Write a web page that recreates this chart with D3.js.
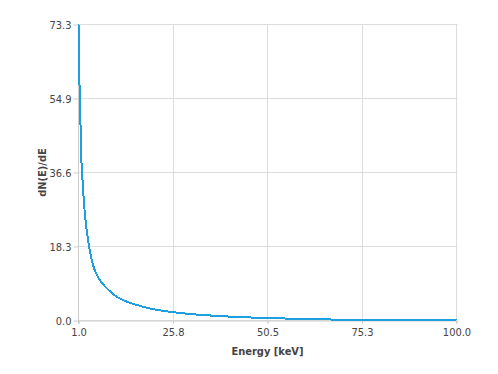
<!DOCTYPE html>
<html>
<head>
<meta charset="utf-8">
<script src="https://cdn.jsdelivr.net/npm/d3@7"></script>
<style>
  body { margin: 0; background: #fff; }
  svg { display: block; }
  .tick text { font-family: "DejaVu Sans Condensed", "DejaVu Sans", sans-serif; font-size: 11px; fill: #444; }
  .title { font-family: "DejaVu Sans Condensed", "DejaVu Sans", sans-serif; font-size: 11px; font-weight: bold; fill: #444; }
</style>
</head>
<body>
<div id="chart"></div>
<script>
const WIDTH = 498;
const HEIGHT = 374;
const PLOT = { LEFT: 78.5, RIGHT: 456.5, TOP: 24.5, BOTTOM: 320.5 };

// spectrum
const energy = [1.0, 1.26, 1.52, 1.79, 2.05, 2.67, 3.8, 4.85, 6.34, 8.8, 11.0, 13.0, 15.4, 19.8, 25.5,
    28.6, 31.6, 35.5, 40.2, 46.2, 50.5, 54.7, 60.0, 66.8, 75.3, 85.0, 100.0];
const dNdE = [73.3, 58.5, 48.5, 39.0, 34.7, 26.4, 18.1, 13.6, 10.4, 7.6, 5.9, 4.9, 4.1, 2.95, 2.1,
    1.75, 1.5, 1.24, 0.99, 0.74, 0.62, 0.5, 0.38, 0.25, 0.15, 0.08, 0.0];

const xTicks = [1.0, 25.75, 50.5, 75.25, 100.0];
const xTickLabels = ['1.0', '25.8', '50.5', '75.3', '100.0'];
const yTicks = [0, 18.325, 36.65, 54.975, 73.3];
const yTickLabels = ['0.0', '18.3', '36.6', '54.9', '73.3'];

let svg = d3
    .select('#chart')
    .append('svg')
    .attr('width', WIDTH)
    .attr('height', HEIGHT);

let xScale = d3.scaleLinear().domain([1, 100]).range([PLOT.LEFT, PLOT.RIGHT]);
let yScale = d3.scaleLinear().domain([0, 73.3]).range([PLOT.BOTTOM, PLOT.TOP]);

// grid
svg.append('g')
    .selectAll('line.hgrid')
    .data(yTicks)
    .enter()
    .append('line')
    .attr('x1', PLOT.LEFT)
    .attr('x2', PLOT.RIGHT + 1)
    .attr('y1', d => Math.round(yScale(d) - 0.5) + 0.5)
    .attr('y2', d => Math.round(yScale(d) - 0.5) + 0.5)
    .attr('stroke', '#dddddd');

svg.append('g')
    .selectAll('line.vgrid')
    .data(xTicks)
    .enter()
    .append('line')
    .attr('x1', d => Math.round(xScale(d) - 0.5) + 0.5)
    .attr('x2', d => Math.round(xScale(d) - 0.5) + 0.5)
    .attr('y1', PLOT.TOP)
    .attr('y2', PLOT.BOTTOM + 3)
    .attr('stroke', '#dddddd');

// axes
let xAxis = d3.axisBottom(xScale)
    .tickValues(xTicks)
    .tickFormat((d, i) => xTickLabels[i])
    .tickSize(3)
    .tickPadding(5);

let gx = svg.append('g')
    .attr('transform', `translate(0, ${PLOT.BOTTOM})`)
    .call(xAxis);
gx.select('.domain').attr('stroke', '#cccccc');
gx.selectAll('.tick line').attr('stroke', '#cccccc');

let yAxis = d3.axisLeft(yScale)
    .tickValues(yTicks)
    .tickFormat((d, i) => yTickLabels[i])
    .tickSize(5)
    .tickPadding(2);

let gy = svg.append('g')
    .attr('transform', `translate(${PLOT.LEFT}, 0)`)
    .call(yAxis);
gy.select('.domain').attr('stroke', '#cccccc').attr('d', `M0,${PLOT.TOP}V${PLOT.BOTTOM + 3}`);
gy.selectAll('.tick line').attr('stroke', '#cccccc');

// curve
let line = d3.line()
    .x((d, i) => xScale(energy[i]))
    .y(d => yScale(d))
    .curve(d3.curveMonotoneX);

svg.append('path')
    .datum(dNdE)
    .attr('d', line)
    .attr('fill', 'none')
    .attr('stroke', '#1f9ee0')
    .attr('stroke-width', 2)
    .attr('shape-rendering', 'crispEdges');

// titles
svg.append('text')
    .attr('class', 'title')
    .attr('x', (PLOT.LEFT + PLOT.RIGHT) / 2)
    .attr('y', 355)
    .attr('text-anchor', 'middle')
    .text('Energy [keV]');

svg.append('text')
    .attr('class', 'title')
    .attr('transform', `translate(46, ${(PLOT.TOP + PLOT.BOTTOM) / 2}) rotate(-90)`)
    .attr('text-anchor', 'middle')
    .text('dN(E)/dE');
</script>
</body>
</html>
